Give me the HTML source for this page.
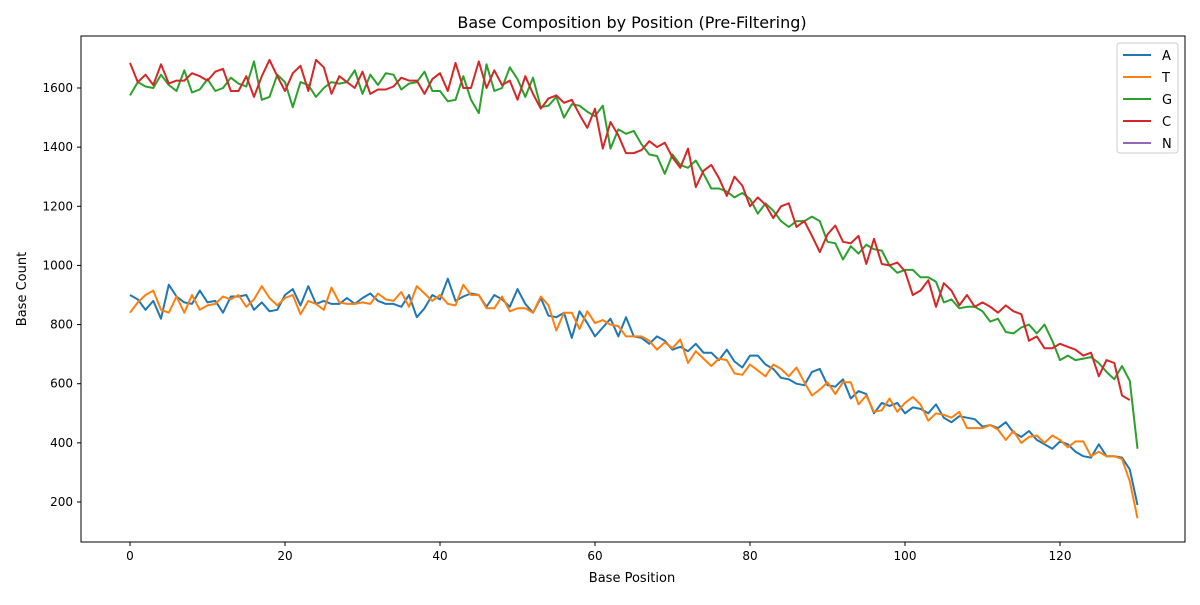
<!DOCTYPE html>
<html><head><meta charset="utf-8"><style>
body{margin:0;background:#fff;font-family:"Liberation Sans","DejaVu Sans",sans-serif;}
svg text{font-family:"DejaVu Sans","Liberation Sans",sans-serif;}
</style></head><body>
<svg id="chart" width="1200" height="600">
<rect x="0" y="0" width="1200" height="600" fill="#fff"/>
<text x="632" y="28" font-size="16" text-anchor="middle">Base Composition by Position (Pre-Filtering)</text>
<text x="632" y="582" font-size="13" text-anchor="middle">Base Position</text>
<text x="26" y="289" font-size="13" text-anchor="middle" transform="rotate(-90 26 289)">Base Count</text>
<g id="axes"></g>
<g id="lines"></g>
<rect x="81" y="36" width="1104" height="506" fill="none" stroke="#000" stroke-width="1"/>
<g id="legend"></g>
</svg>
<script>
const xTicks=[0,20,40,60,80,100,120];
const yTicks=[200,400,600,800,1000,1200,1400,1600];
const seriesNames=["A","T","G","C","N"];
const seriesColors=["#1f77b4","#ff7f0e","#2ca02c","#d62728","#9467bd"];
const aVals=[900,885,850,880,820,935,895,875,870,915,875,880,840,895,895,900,850,875,845,850,900,920,865,930,870,880,870,870,890,870,890,905,880,870,870,860,900,825,855,900,885,955,880,895,905,900,860,900,885,860,920,870,840,890,830,825,840,755,845,805,760,790,820,760,825,760,755,735,760,745,715,725,710,735,705,705,680,715,675,655,695,695,665,650,620,615,600,595,640,650,595,590,615,550,575,565,500,535,525,535,500,520,515,500,530,485,470,490,485,480,455,460,450,470,435,420,440,410,395,380,405,395,370,355,350,395,355,355,350,310,190];
const tVals=[840,875,900,915,850,840,895,840,900,850,865,870,895,885,900,860,885,930,890,865,890,900,835,880,870,850,925,875,870,870,875,870,905,885,880,910,860,930,905,880,900,870,865,935,900,900,855,855,895,845,855,855,840,895,865,780,840,840,785,845,805,815,800,795,760,760,760,745,715,740,720,750,670,710,685,660,685,680,635,630,665,645,625,665,650,625,655,605,560,580,605,565,605,605,530,560,505,510,550,505,535,555,530,475,500,495,485,505,450,450,450,460,445,410,440,400,420,425,400,425,410,385,405,405,355,370,355,355,345,270,145];
const gVals=[1575,1620,1605,1600,1645,1610,1590,1660,1585,1595,1630,1590,1600,1635,1615,1605,1690,1560,1570,1645,1620,1535,1620,1610,1570,1600,1620,1615,1620,1660,1580,1645,1610,1650,1645,1595,1615,1620,1655,1590,1590,1555,1560,1640,1560,1515,1680,1590,1600,1670,1630,1570,1635,1535,1540,1570,1500,1545,1540,1520,1505,1540,1395,1460,1445,1455,1410,1375,1370,1310,1375,1340,1330,1355,1310,1260,1260,1250,1230,1245,1225,1175,1210,1185,1150,1130,1150,1150,1165,1150,1080,1075,1020,1065,1040,1070,1055,1050,1000,975,985,985,960,960,945,875,885,855,860,860,845,810,820,775,770,790,800,770,800,745,680,695,680,685,690,670,640,615,660,610,380];
const cVals=[1685,1620,1645,1610,1680,1615,1625,1625,1650,1640,1625,1655,1665,1590,1590,1640,1570,1640,1695,1640,1590,1650,1675,1590,1695,1670,1580,1640,1620,1600,1655,1580,1595,1595,1605,1635,1625,1625,1580,1630,1650,1590,1685,1600,1600,1690,1600,1660,1610,1625,1560,1640,1580,1530,1565,1575,1550,1560,1510,1465,1530,1395,1485,1440,1380,1380,1390,1420,1400,1415,1365,1330,1395,1265,1320,1340,1295,1235,1300,1270,1200,1230,1205,1160,1200,1210,1130,1150,1100,1045,1105,1135,1080,1075,1100,1005,1090,1005,1000,1010,980,900,915,950,860,940,915,865,900,860,875,860,840,865,845,835,745,760,720,720,735,725,715,695,705,625,680,670,560,545];
const nVals=[];
const allSeries=[aVals,tVals,gVals,cVals,nVals];

const NS="http://www.w3.org/2000/svg";
function xs(v){return 130+v*7.75;}
function ys(v){return 502-(v-200)*0.295714;}
const axes=document.getElementById('axes');
xTicks.forEach(t=>{
  const l=document.createElementNS(NS,'line');
  l.setAttribute('x1',xs(t));l.setAttribute('x2',xs(t));l.setAttribute('y1',542);l.setAttribute('y2',546);l.setAttribute('stroke','#000');
  
  
  axes.appendChild(l);
  const tx=document.createElementNS(NS,'text');
  tx.setAttribute('x',xs(t));tx.setAttribute('y',560);tx.setAttribute('font-size','12');tx.setAttribute('text-anchor','middle');tx.textContent=t;
  
  
  axes.appendChild(tx);
});
yTicks.forEach(t=>{
  const l=document.createElementNS(NS,'line');
  l.setAttribute('x1',77);l.setAttribute('x2',81);l.setAttribute('y1',ys(t));l.setAttribute('y2',ys(t));l.setAttribute('stroke','#000');
  
  
  axes.appendChild(l);
  const tx=document.createElementNS(NS,'text');
  tx.setAttribute('x',73);tx.setAttribute('y',ys(t)+4);tx.setAttribute('font-size','12');tx.setAttribute('text-anchor','end');tx.textContent=t;
  
  
  axes.appendChild(tx);
});
const lines=document.getElementById('lines');
allSeries.forEach((vals,i)=>{
  if(!vals.length)return;
  const p=document.createElementNS(NS,'polyline');
  p.setAttribute('points',vals.map((v,j)=>xs(j).toFixed(1)+','+ys(v).toFixed(1)).join(' '));
  p.setAttribute('fill','none');p.setAttribute('stroke',seriesColors[i]);p.setAttribute('stroke-width','2');p.setAttribute('stroke-linejoin','round');
  
  
  lines.appendChild(p);
});
const lg=document.getElementById('legend');
const box=document.createElementNS(NS,'rect');
box.setAttribute('x',1117);box.setAttribute('y',43);box.setAttribute('width',61);box.setAttribute('height',110);box.setAttribute('rx',3);box.setAttribute('fill','#fff');box.setAttribute('stroke','#ccc');


lg.appendChild(box);
seriesNames.forEach((n,i)=>{
  const y=55+i*22;
  const l=document.createElementNS(NS,'line');
  l.setAttribute('x1',1123);l.setAttribute('x2',1151);l.setAttribute('y1',y);l.setAttribute('y2',y);l.setAttribute('stroke',seriesColors[i]);l.setAttribute('stroke-width','2');
  
  
  lg.appendChild(l);
  const t=document.createElementNS(NS,'text');
  t.setAttribute('x',1162);t.setAttribute('y',y+5);t.setAttribute('font-size','13');t.textContent=n;
  
  
  lg.appendChild(t);
});
</script>
</body></html>
